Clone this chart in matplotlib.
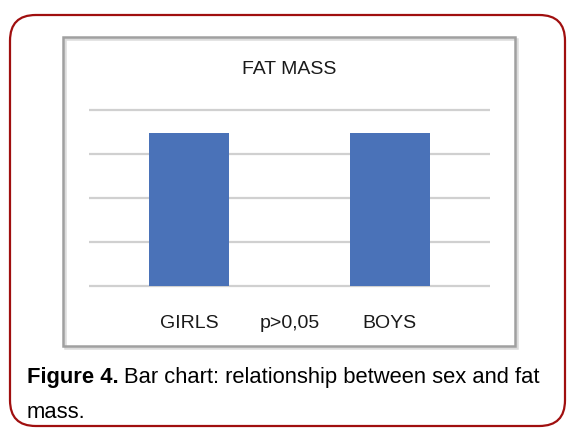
from matplotlib import pyplot as plt
from matplotlib.patches import Rectangle, FancyBboxPatch

groups = ["GIRLS", "BOYS"]
fat_mass = [3.48, 3.48]
grid_levels = [0, 1, 2, 3, 4]
p_text = "p>0,05"
chart_title = "FAT MASS"

W, H = 572, 435
fig = plt.figure(figsize=(W / 100, H / 100), dpi=100)

sans = ["Liberation Sans", "DejaVu Sans"]


def px(x, y):
    # pixel coords (top-left origin) -> figure fraction
    return x / W, 1 - y / H


# outer rounded frame
fig.patches.append(FancyBboxPatch(px(10, 427), (565 - 10) / W, (427 - 16) / H,
                                  boxstyle="round,pad=0,rounding_size=0.045",
                                  transform=fig.transFigure, fill=False,
                                  edgecolor="#a00f0f", linewidth=1.6,
                                  mutation_aspect=W / H))
# chart box with faint shadow
fig.patches.append(Rectangle(px(65, 349), (515 - 63) / W, (347 - 38) / H,
                             transform=fig.transFigure, fill=False,
                             edgecolor="#dcdcdc", linewidth=1.8))
fig.patches.append(Rectangle(px(63, 347), (515 - 63) / W, (347 - 38) / H,
                             transform=fig.transFigure, fill=False,
                             edgecolor="#a0a0a0", linewidth=1.8))

ax = fig.add_axes([89 / W, (H - 291.4) / H, (490 - 89) / W, 184.8 / H])
x = range(len(groups))
ax.bar(x, fat_mass, width=0.4, color="#4a72b8", zorder=3)
ax.set_xlim(-0.5, 1.5)
ax.set_ylim(-0.1, 4.1)
ax.set_yticks(grid_levels)
ax.yaxis.grid(True, color="#d0d0d0", linewidth=1.6)
ax.set_axisbelow(True)
ax.tick_params(axis="y", left=False, labelleft=False)
ax.set_xticks(list(x))
ax.set_xticklabels(groups, fontsize=14, family=sans, color="#1a1a1a")
ax.tick_params(axis="x", length=0, pad=17)
for s in ax.spines.values():
    s.set_visible(False)

ax.annotate(p_text, xy=(0.5, -0.1), xycoords="data",
            xytext=(0, -17), textcoords="offset points",
            ha="center", va="top", fontsize=14, family=sans,
            color="#1a1a1a")

fig.text(*px(289, 70), chart_title, ha="center", va="center",
         fontsize=14, family=sans, color="#1a1a1a")

# caption
cap_size = 15.8
t1 = fig.text(*px(27, 383), "Figure 4.", ha="left", va="baseline",
              fontsize=cap_size, fontweight="bold", family=sans)
fig.canvas.draw()
bb = t1.get_window_extent()
fig.text(bb.x1 / W + 5 / W, 1 - 383 / H,
         "Bar chart: relationship between sex and fat", ha="left",
         va="baseline", fontsize=cap_size, family=sans)
fig.text(*px(27, 418), "mass.", ha="left", va="baseline",
         fontsize=cap_size, family=sans)

fig.savefig("out.png", dpi=100)
